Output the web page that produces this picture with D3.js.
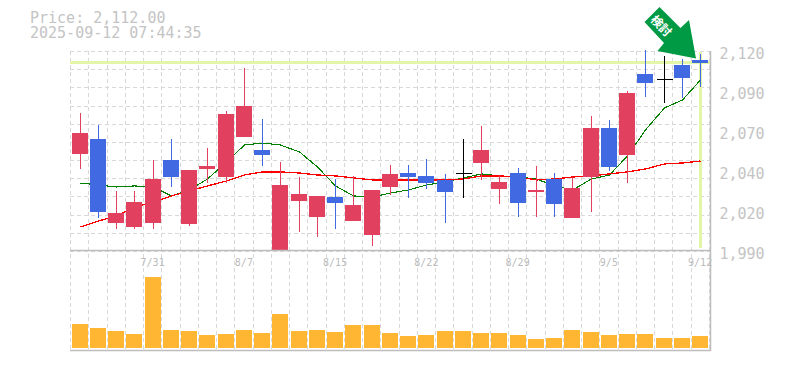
<!DOCTYPE html>
<html>
<head>
<meta charset="utf-8">
<script src="https://cdn.jsdelivr.net/npm/d3@7"></script>
<style>
html, body { margin: 0; padding: 0; background: #fff; }
text { font-family: "DejaVu Sans Mono", monospace; }
</style>
</head>
<body>
<div id="chart"></div>
<script>
// daily values
var dates = ["7/25","7/28","7/29","7/30","7/31","8/1","8/4","8/5","8/6","8/7","8/8","8/12","8/13","8/14","8/15","8/18","8/19","8/20","8/21","8/22","8/25","8/26","8/27","8/28","8/29","9/1","9/2","9/3","9/4","9/5","9/8","9/9","9/10","9/11","9/12"];
var opens = [2053.1,2062.8,2008.2,2005.6,2008.2,2049.2,2007.6,2043.3,2038.1,2064.1,2055.7,1990,2022.5,2012.1,2025.1,2009.5,2000.4,2031.6,2040.7,2038.8,2036.2,2040.7,2047.2,2030.3,2040.7,2028.4,2036.8,2011.5,2038.1,2070,2052.4,2105.1,2101.2,2110.9,2114.2];
var closes = [2066.7,2015.4,2014.7,2021.9,2036.8,2038.1,2042.7,2045.3,2079.1,2084.3,2052.4,2032.9,2027.1,2025.8,2021.2,2019.9,2029.7,2040.1,2038.1,2034.2,2028.4,2040.7,2055.7,2034.9,2021.2,2029.7,2020.6,2031,2070,2044.6,2092.7,2099.2,2101.2,2102.5,2112.2];
var highs = [2079.7,2071.9,2029,2029,2049.2,2062.8,2042.7,2057,2081,2109,2075.8,2047.9,2038.1,2025.8,2036.8,2038.8,2029.7,2045.9,2045.9,2049.8,2040.1,2062.8,2071.3,2039.4,2044,2045.3,2040.7,2038.1,2077.8,2075.2,2094,2120.7,2116.8,2114.8,2118.1];
var lows = [2043.3,2011.5,2004.3,2004.3,2004.3,2031.6,2006.3,2034.2,2034.2,2064.1,2045.3,1990,2002.4,1999.1,2004.3,2009.5,1993.3,2026.4,2024.5,2030.3,2008.2,2024.5,2036.2,2020.6,2012.1,2012.1,2012.1,2011.5,2015.4,2042,2034.2,2090.1,2086.2,2089.5,2096.6];
var maShort = [2034.2,2032.9,2031.6,2032.3,2031.6,2025.8,2029.7,2036.8,2047.9,2058.9,2060.2,2058.9,2054.4,2044.6,2032.3,2025.8,2025.1,2027.7,2029.7,2032.9,2034.9,2037.5,2040.1,2038.8,2038.1,2036.8,2032.3,2029.7,2036.8,2039.4,2051.8,2068.7,2083,2088.2,2101.2];
var maLong = [2005.6,2009.5,2012.8,2018.6,2021.9,2025.8,2029,2032.3,2035.5,2039.4,2041.4,2041.4,2040.7,2039.4,2038.8,2037.5,2036.2,2036.2,2036.2,2036.2,2036.2,2036.8,2038.8,2038.8,2038.1,2036.2,2036.8,2038.1,2038.8,2040.1,2041.4,2043.3,2046.6,2047.2,2048.5];
var volume = [24,20,17,14,71,18,17,13,14,18,15,34,17,18,16,23,23,15,12,13,17,17,15,15,13,9,10,18,16,13,14,14,10,10,12];

var priceTicks = [1990,2016,2042,2068,2094,2120];
var priceLabels = ["1,990","2,020","2,040","2,070","2,090","2,120"];
var dateTicks = ["7/31","8/7","8/15","8/22","8/29","9/5","9/12"];
var lastPrice = 2112.5;
var titleLines = ["Price: 2,112.00","2025-09-12 07:44:35"];
var badgeText = "検討";

var width = 785, height = 370;
var plotLeft = 70.5, plotRight = 709.25, plotTop = 51, plotMid = 251, volBase = 348, plotFloor = 350;

var svg = d3.select("#chart").append("svg")
  .attr("width", width)
  .attr("height", height)
  .style("display", "block");

var x = d3.scaleBand().domain(dates).range([plotLeft, plotRight]);
var y = d3.scaleLinear().domain([1990, 2120]).range([plotMid, plotTop]);
var yVol = d3.scaleLinear().domain([0, 100]).range([volBase, volBase - 100]);
var cx = function(d) { return Math.round(x(d) + x.bandwidth() / 2) + 0.5; };

// grid
var gridX = d3.range(dates.length + 1).map(function(i) { return Math.floor(plotLeft + i * x.step()) + 0.5; });
var gridY = d3.range(12).map(function(i) { return Math.round(plotTop + i * (plotMid - plotTop) / 11) + 0.5; });
svg.append("g").selectAll("line").data(gridX).enter().append("line")
  .attr("x1", function(d) { return d; }).attr("x2", function(d) { return d; })
  .attr("y1", plotTop).attr("y2", plotFloor)
  .attr("stroke", "#d8d8d8").attr("stroke-dasharray", "4,3");
svg.append("g").selectAll("line").data(gridY).enter().append("line")
  .attr("x1", 70).attr("x2", 710)
  .attr("y1", function(d) { return d; }).attr("y2", function(d) { return d; })
  .attr("stroke", "#d8d8d8").attr("stroke-dasharray", "4,3");

// last price highlight
svg.append("line")
  .attr("x1", 70).attr("x2", 710)
  .attr("y1", y(lastPrice)).attr("y2", y(lastPrice))
  .attr("stroke", "#e3f6a8").attr("stroke-width", 3);
svg.append("line")
  .attr("x1", cx("9/12")).attr("x2", cx("9/12"))
  .attr("y1", plotTop + 1).attr("y2", 248)
  .attr("stroke", "#e3f6a8").attr("stroke-width", 3);

// axes
var yAxis = d3.axisRight(y).tickValues(priceTicks).tickSize(0).tickPadding(9)
  .tickFormat(function(d, i) { return priceLabels[i]; });
var gy = svg.append("g").attr("transform", "translate(710.5,3)").call(yAxis);
gy.select(".domain").remove();
gy.selectAll("text").attr("font-size", 15).attr("fill", "#c4c4c4").style("font-family", '"DejaVu Sans Mono", monospace');

var xAxis = d3.axisBottom(x).tickValues(dateTicks).tickSize(0).tickPadding(5);
var gx = svg.append("g").attr("transform", "translate(0," + (plotMid + 3) + ")").call(xAxis);
gx.select(".domain").remove();
gx.selectAll("text").attr("font-size", 10).attr("fill", "#bbb").style("font-family", '"DejaVu Sans Mono", monospace');

// volume
svg.append("g").selectAll("rect").data(volume).enter().append("rect")
  .attr("x", function(d, i) { return Math.round(x(dates[i])) + 1; })
  .attr("width", 16)
  .attr("y", function(d) { return yVol(d); })
  .attr("height", function(d) { return yVol(0) - yVol(d); })
  .attr("fill", "#ffb733");

// moving averages
var lineGen = function(vals) {
  return d3.line()
    .x(function(d, i) { return cx(dates[i]); })
    .y(function(d) { return y(d); })(vals);
};
svg.append("path").attr("d", lineGen(maShort))
  .attr("fill", "none").attr("stroke", "#008000").attr("stroke-width", 1.1).attr("shape-rendering", "crispEdges");
svg.append("path").attr("d", lineGen(maLong))
  .attr("fill", "none").attr("stroke", "#ff0000").attr("stroke-width", 1.3).attr("shape-rendering", "crispEdges");

// candles
function candleColor(i) {
  if (closes[i] > opens[i]) { return "#e2405f"; }
  if (closes[i] < opens[i]) { return "#4169e1"; }
  return "#000";
}
var candles = svg.append("g").attr("shape-rendering", "crispEdges");
dates.forEach(function(d, i) {
  candles.append("line")
    .attr("x1", cx(d)).attr("x2", cx(d))
    .attr("y1", y(highs[i])).attr("y2", y(lows[i]))
    .attr("stroke", candleColor(i));
  if (opens[i] == closes[i]) {
    candles.append("line")
      .attr("x1", cx(d) - 8).attr("x2", cx(d) + 8)
      .attr("y1", y(opens[i])).attr("y2", y(opens[i]))
      .attr("stroke", candleColor(i));
  } else {
    candles.append("rect")
      .attr("x", Math.round(x(d)) + 1)
      .attr("width", 16)
      .attr("y", y(Math.max(opens[i], closes[i])))
      .attr("height", Math.abs(y(opens[i]) - y(closes[i])))
      .attr("fill", candleColor(i));
  }
});

// frame lines
svg.append("path")
  .attr("d", "M70,250.5H710.5M70,350.5H710.5M710.5,51V351")
  .attr("fill", "none").attr("stroke", "#bdbdbd").attr("stroke-width", 1.5);

// title
svg.append("g").selectAll("text").data(titleLines).enter().append("text")
  .attr("x", 30)
  .attr("y", function(d, i) { return 23 + i * 15; })
  .attr("font-size", 15)
  .attr("fill", "#c4c4c4")
  .text(function(d) { return d; });

// badge arrow
var badge = svg.append("g");
badge.append("path")
  .attr("d", "M659.5,7L644.5,22L664,43L657.5,51L696,58.5L689,20L680.5,28Z")
  .attr("fill", "#009944");
badge.append("text")
  .attr("transform", "translate(662,25) rotate(45)")
  .attr("text-anchor", "middle")
  .attr("dominant-baseline", "central")
  .attr("font-size", 12)
  .attr("font-weight", "bold")
  .attr("fill", "#fff")
  .style("font-family", '"Noto Sans CJK JP", sans-serif')
  .text(badgeText);
</script>
</body>
</html>
